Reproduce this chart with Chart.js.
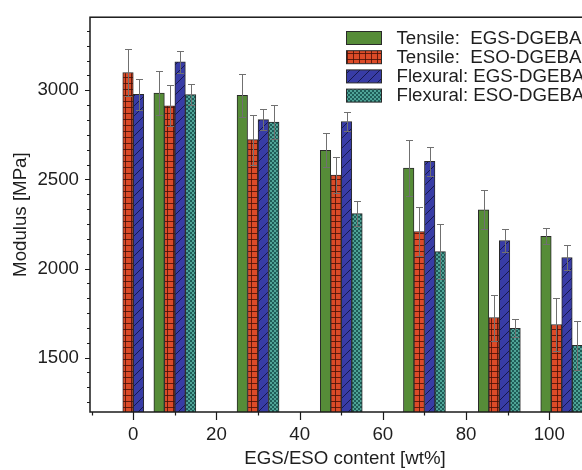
<!DOCTYPE html>
<html>
<head>
<meta charset="utf-8">
<script src="https://cdn.jsdelivr.net/npm/chart.js@4"></script>
<style>
  html, body { margin: 0; padding: 0; background: #fff; overflow: hidden; }
  #wrap { position: relative; width: 620px; height: 470px; }
</style>
</head>
<body>
<div id="wrap"><canvas id="modChart" width="620" height="470"></canvas></div>
<script>
  // ---- DATA ----
  const content = [0, 10, 30, 50, 70, 88, 103];          // group positions, wt%
  const tensileEGS    = [null, 2985, 2972, 2663, 2564, 2330, 2181];
  const tensileEGSErr = [null, 123, 120, 95, 155, 110, 45];
  const tensileESO    = [3100, 2913, 2723, 2524, 2207, 1725, 1686];
  const tensileESOErr = [130, 115, 141, 100, 138, 129, 149];
  const flexEGS       = [2978, 3160, 2835, 2825, 2602, 2157, 2062];
  const flexEGSErr    = [86, 61, 59, 52, 82, 67, 70];
  const flexESO       = [null, 2976, 2821, 2308, 2095, 1664, 1569];
  const flexESOErr    = [null, 60, 97, 70, 155, 50, 136];

  const xTickLabels = [0, 20, 40, 60, 80, 100];
  const yTickLabels = [1500, 2000, 2500, 3000];

  const FONT = '"Liberation Sans", Arial, Helvetica, sans-serif';
  const FSIZE = 18.7;
  const TXT = '#1e1e1e';

  const canvas = document.getElementById('modChart');
  const ctx = canvas.getContext('2d');

  // ---- fill patterns ----
  function makePattern(w, h, draw) {
    const c = document.createElement('canvas');
    c.width = w; c.height = h;
    draw(c.getContext('2d'), w, h);
    return ctx.createPattern(c, 'repeat');
  }
  const greenFill = '#568c38';
  const redFill = makePattern(6, 6, (g) => {
    g.fillStyle = '#dc4b28'; g.fillRect(0, 0, 6, 6);
    g.fillStyle = 'rgba(70,15,5,0.8)';
    g.fillRect(0, 5, 6, 1); g.fillRect(5, 0, 1, 6);
  });
  const blueFill = makePattern(10, 10, (g) => {
    g.fillStyle = '#383ca6'; g.fillRect(0, 0, 10, 10);
    g.strokeStyle = '#16184c'; g.lineWidth = 1;
    g.beginPath();
    g.moveTo(-1, 11); g.lineTo(11, -1);
    g.moveTo(-6, 6); g.lineTo(6, -6);
    g.moveTo(4, 16); g.lineTo(16, 4);
    g.stroke();
  });
  const tealFill = makePattern(4, 4, (g) => {
    g.fillStyle = '#1f5d58'; g.fillRect(0, 0, 4, 4);
    g.fillStyle = '#4fa497';
    g.fillRect(0, 0, 2, 2); g.fillRect(2, 2, 2, 2);
  });

  function pts(vals) { return content.map((c, i) => ({ x: c, y: vals[i] })); }

  // ---- plugins ----
  const errorBars = {
    id: 'errorBars',
    afterDatasetsDraw(chart) {
      const c = chart.ctx, ys = chart.scales.y;
      c.save();
      c.strokeStyle = '#707070';
      c.lineWidth = 1;
      chart.data.datasets.forEach((ds, i) => {
        chart.getDatasetMeta(i).data.forEach((bar, j) => {
          const v = ds.data[j].y, e = ds.errors[j];
          if (v == null || e == null) return;
          const x = Math.round(bar.x) + 0.5;
          const top = Math.round(ys.getPixelForValue(v + e)) + 0.5;
          const bot = Math.round(ys.getPixelForValue(v - e)) + 0.5;
          c.beginPath();
          c.moveTo(x, top); c.lineTo(x, bot);
          c.moveTo(x - 3.5, top); c.lineTo(x + 3.5, top);
          c.moveTo(x - 3.5, bot); c.lineTo(x + 3.5, bot);
          c.stroke();
        });
      });
      c.restore();
    }
  };

  const frame = {
    id: 'frame',
    afterDraw(chart) {
      const { ctx: c, chartArea: a, scales: { x, y } } = chart;
      c.save();
      c.strokeStyle = '#1a1a1a';
      c.lineWidth = 1.5;
      c.strokeRect(a.left, a.top, a.right - a.left, a.bottom - a.top);
      c.lineWidth = 1.2;
      c.beginPath();
      x.ticks.forEach(t => {
        const px = Math.round(x.getPixelForValue(t.value)) + 0.5;
        const len = xTickLabels.includes(t.value) ? 8 : 3.5;
        c.moveTo(px, a.bottom); c.lineTo(px, a.bottom + len);
      });
      y.ticks.forEach(t => {
        const py = Math.round(y.getPixelForValue(t.value)) + 0.5;
        const len = yTickLabels.includes(t.value) ? 5 : 3;
        c.moveTo(a.left, py); c.lineTo(a.left - len, py);
      });
      c.stroke();
      c.restore();
    }
  };

  const legendBox = {
    id: 'legendBox',
    afterDraw(chart) {
      const c = chart.ctx;
      c.save();
      c.font = FSIZE + 'px ' + FONT;
      c.textBaseline = 'middle';
      chart.data.datasets.forEach((ds, i) => {
        const top = 31.5 + i * 19.2;
        c.fillStyle = ds.backgroundColor;
        c.fillRect(346.5, top, 35, 13);
        c.strokeStyle = '#2a2a2a'; c.lineWidth = 1;
        c.strokeRect(346.5, top, 35, 13);
        c.fillStyle = TXT;
        c.fillText(ds.label, 396.5, top + 7);
      });
      c.restore();
    }
  };

  // ---- CHART ----
  new Chart(ctx, {
    type: 'bar',
    data: {
      datasets: [
        { label: 'Tensile:  EGS-DGEBA', data: pts(tensileEGS), errors: tensileEGSErr, backgroundColor: greenFill },
        { label: 'Tensile:  ESO-DGEBA', data: pts(tensileESO), errors: tensileESOErr, backgroundColor: redFill },
        { label: 'Flexural: EGS-DGEBA', data: pts(flexEGS), errors: flexEGSErr, backgroundColor: blueFill },
        { label: 'Flexural: ESO-DGEBA', data: pts(flexESO), errors: flexESOErr, backgroundColor: tealFill }
      ]
    },
    options: {
      responsive: false,
      animation: false,
      datasets: { bar: { barThickness: 10.5, skipNull: true, borderColor: '#2a2a2a', borderWidth: 1, borderSkipped: 'start' } },
      layout: { padding: { top: 15, right: 20, left: 0, bottom: 0 } },
      plugins: { legend: { display: false }, tooltip: { enabled: false } },
      scales: {
        x: {
          type: 'linear', min: -10.4, max: 112.2, offset: false,
          afterBuildTicks: s => {
            const t = [];
            for (let v = -10; v <= 110; v += 10) t.push({ value: v });
            s.ticks = t;
          },
          ticks: { autoSkip: false, maxRotation: 0, padding: 4, color: TXT, font: { family: FONT, size: FSIZE },
                   callback: v => xTickLabels.includes(v) ? String(v) : '' },
          grid: { display: true, offset: false, drawOnChartArea: false, tickLength: 8, tickColor: 'transparent' },
          border: { display: false },
          title: { display: true, text: 'EGS/ESO content [wt%]', color: TXT, font: { family: FONT, size: FSIZE }, padding: { top: 0, bottom: 0 } },
          afterFit: s => { s.height = 58; }
        },
        y: {
          min: 1195, max: 3410,
          afterBuildTicks: s => {
            const t = [];
            for (let k = -3; k <= 22; k++) t.push({ value: 1500 + (k * 500) / 6 });
            s.ticks = t.filter(o => o.value >= s.min && o.value <= s.max);
          },
          ticks: { autoSkip: false, padding: 6, color: TXT, font: { family: FONT, size: FSIZE },
                   callback: v => yTickLabels.includes(v) ? String(v) : '' },
          grid: { display: true, drawOnChartArea: false, tickLength: 5, tickColor: 'transparent' },
          border: { display: false },
          title: { display: true, text: 'Modulus [MPa]', color: TXT, font: { family: FONT, size: FSIZE }, padding: { top: 10, bottom: 0 } },
          afterFit: s => { s.width = 90; }
        }
      }
    },
    plugins: [errorBars, frame, legendBox]
  });
</script>
</body>
</html>
